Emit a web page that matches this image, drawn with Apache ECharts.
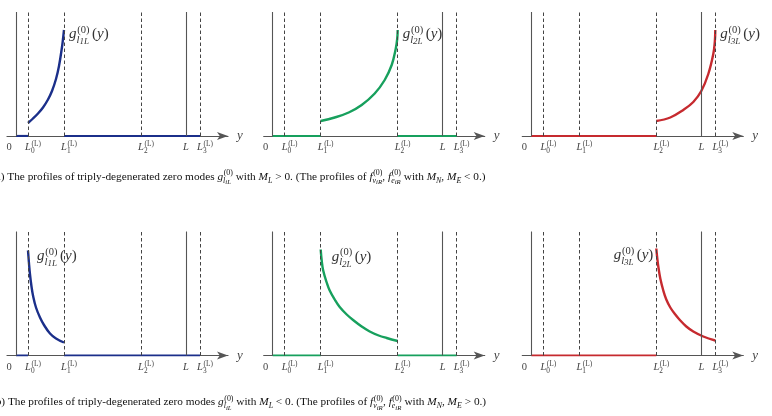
<!DOCTYPE html>
<html>
<head>
<meta charset="utf-8">
<script src="https://cdn.jsdelivr.net/npm/echarts@6/dist/echarts.min.js"></script>
<style>
  html, body { margin: 0; padding: 0; background: #fff; }
  #chart { width: 772px; height: 416px; }
</style>
</head>
<body>
<div id="chart"></div>
<script>
// positions of 0, L0, L1, L2, L, L3 along the y axis
const tickValues = [0, 12, 48, 125, 170, 184];
const tickNames = ['0', '0', '1', '2', 'L', '3'];
const yTop = 124;

// rising profiles, M_L > 0
const rise1X = [12, 17, 22, 27, 32, 36, 40, 43, 46, 47, 48];
const rise1Y = [13, 17.5, 22.5, 28.5, 36.5, 45, 57, 70, 89, 97, 106];
const rise2X = [48, 62, 76, 89, 102, 112, 119, 123, 124.5, 125];
const rise2Y = [15, 18.5, 23.5, 31, 42.5, 56, 71, 87, 97, 106];
const rise3X = [125, 139, 152, 162, 170, 177, 182, 183.5, 184];
const rise3Y = [15, 18.5, 26, 34, 45, 62, 82, 94, 106];

// falling profiles, M_L < 0
const fall1X = [12, 13, 14, 15.5, 17, 20, 24, 28, 34, 40, 48];
const fall1Y = [105, 92, 81, 69, 60, 48, 38, 30.5, 22, 17, 13];
const fall2X = [48, 49, 50.5, 54, 57, 62, 67, 74, 81, 89, 97, 106, 114, 125];
const fall2Y = [106, 95, 85, 73, 65, 56, 48.5, 41, 35, 29, 24, 20, 17.5, 14.5];
const fall3X = [125, 126, 127, 129, 132, 135, 139, 144, 149, 155, 162, 172, 184];
const fall3Y = [107, 97, 89, 77, 65, 56, 48, 41, 35, 29, 24, 19, 15];

const colors = ['#1b2f8a', '#17a05d', '#c62a2f'];
const gridLeft = [7, 263.7, 522.3];
const gridTop = [12, 231.5];

const panels = [
  {row: 0, col: 0, x: rise1X, y: rise1Y, anchor: 'end', off: [5, 9.6]},
  {row: 0, col: 1, x: rise2X, y: rise2Y, anchor: 'end', off: [5, 9.6]},
  {row: 0, col: 2, x: rise3X, y: rise3Y, anchor: 'end', off: [5, 9.6]},
  {row: 1, col: 0, x: fall1X, y: fall1Y, anchor: 'start', off: [9, 11]},
  {row: 1, col: 1, x: fall2X, y: fall2Y, anchor: 'start', off: [11, 12.5]},
  {row: 1, col: 2, x: fall3X, y: fall3Y, anchor: 'start', off: [-3, 12], right: true}
];

let grids = [], xAxes = [], yAxes = [], series = [];
panels.forEach((p, i) => {
  grids.push({left: gridLeft[p.col], top: gridTop[p.row], width: 221, height: 124, outerBoundsMode: 'none'});
  xAxes.push({
    type: 'value', gridIndex: i, min: -9, max: 212,
    axisLine: {show: true, symbol: ['none', 'arrow'], symbolSize: [6, 11], lineStyle: {color: '#555', width: 1.2}},
    axisTick: {show: false}, axisLabel: {show: false}, splitLine: {show: false},
    name: 'y', nameLocation: 'end', nameGap: 9,
    nameTextStyle: {fontFamily: 'Liberation Serif', fontStyle: 'italic', fontSize: 13, color: '#444', verticalAlign: 'middle'}
  });
  yAxes.push({type: 'value', gridIndex: i, min: 0, max: yTop, show: false});

  const color = colors[p.col];
  const first = p.x[0], last = p.x[p.x.length - 1];
  // the curve, with the vertical guide lines at 0, L0..L3 and L
  series.push({
    type: 'line', xAxisIndex: i, yAxisIndex: i, silent: true, showSymbol: false,
    smooth: 0.4,
    data: p.x.map((v, k) => [v, p.y[k]]),
    lineStyle: {color: color, width: 2.4}, z: 4,
    markLine: {
      silent: true, symbol: ['none', 'none'], animation: false, label: {show: false},
      lineStyle: {color: '#444', width: 1, type: [3.5, 2.5]},
      data: tickValues.map((v, k) => ({
        xAxis: v,
        lineStyle: (k === 0 || k === 4) ? {type: 'solid', color: '#555', width: 1.1} : {}
      }))
    }
  });
  // zero parts of the profile along the axis
  const flats = [];
  if (first > 0) flats.push([0, first]);
  if (last < tickValues[5]) flats.push([last, tickValues[5]]);
  flats.forEach(f => {
    series.push({
      type: 'line', xAxisIndex: i, yAxisIndex: i, silent: true, showSymbol: false,
      data: [[f[0], 0], [f[1], 0]], lineStyle: {color: color, width: 2.2}, z: 3
    });
  });
});

let chart = echarts.init(document.getElementById('chart'));
chart.setOption({animation: false, grid: grids, xAxis: xAxes, yAxis: yAxes, series: series});

// small math typesetting with stacked super/subscripts
const ctx = document.createElement('canvas').getContext('2d');
function measure(s, size, it) {
  ctx.font = (it ? 'italic ' : '') + size + 'px "Liberation Serif"';
  return ctx.measureText(s).width;
}
function layout(tokens, size) {
  const runs = [];
  let x = 0;
  const s1 = size * 0.7, s2 = size * 0.6;
  tokens.forEach(tk => {
    if (typeof tk === 'string') {
      runs.push({s: tk, size: size, it: false, x: x, dy: 0});
      x += measure(tk, size, false);
      return;
    }
    const bit = tk.it !== false;
    runs.push({s: tk.b, size: size, it: bit, x: x, dy: 0});
    x += measure(tk.b, size, bit);
    let end = x;
    if (tk.sup) {
      const sx = x + size * 0.05;
      runs.push({s: tk.sup, size: s1, it: false, x: sx, dy: -size * 0.4});
      end = Math.max(end, sx + measure(tk.sup, s1, false));
    }
    if (tk.sub) {
      let sx = x;
      tk.sub.forEach(pc => {
        const sz = pc[1] ? s2 : s1;
        const it = pc[2] !== false;
        runs.push({s: pc[0], size: sz, it: it, x: sx, dy: size * 0.27 + (pc[1] ? size * 0.1 : 0)});
        sx += measure(pc[0], sz, it);
      });
      end = Math.max(end, sx);
    }
    x = end + (tk.gap || 0);
  });
  return {runs: runs, width: x};
}
function place(lay, x0, baseline, color, out) {
  lay.runs.forEach(r => {
    if (!r.s.trim()) return;
    out.push({
      type: 'text', silent: true, x: x0 + r.x, y: baseline + r.dy - r.size * 0.34,
      style: {text: r.s, fontSize: r.size, fontFamily: 'Liberation Serif',
        fontStyle: r.it ? 'italic' : 'normal', fill: color, align: 'left', verticalAlign: 'middle'}
    });
  });
}

const graphics = [];
panels.forEach((p, i) => {
  // tick labels under the axis
  tickValues.forEach((v, k) => {
    const pt = chart.convertToPixel({gridIndex: i}, [v, 0]);
    const base = pt[1] + 15.2;
    if (k === 0) {
      const lay = layout(['0'], 10.5);
      place(lay, pt[0] - 7 - lay.width / 2, base, '#444', graphics);
    } else if (k === 4) {
      const lay = layout([{b: 'L'}], 10.5);
      place(lay, pt[0] - lay.width / 2, base, '#444', graphics);
    } else {
      const lay = layout([{b: 'L', sup: '(L)', sub: [[tickNames[k], 0, false]]}], 10.5);
      place(lay, pt[0] - measure('L', 10.5, true) / 2, base, '#444', graphics);
    }
  });
  // curve name next to its tall end
  const idx = p.anchor === 'end' ? p.x.length - 1 : 0;
  const ap = chart.convertToPixel({gridIndex: i}, [p.x[idx], p.y[idx]]);
  const lay = layout([{b: 'g', sup: '(0)', sub: [['l', 0], [(p.col + 1) + 'L', 1]], gap: 2.5}, '(', {b: 'y', it: true}, ')'], 15);
  const x0 = p.right ? ap[0] + p.off[0] - lay.width : ap[0] + p.off[0];
  place(lay, x0, ap[1] + p.off[1], '#333', graphics);
});

const captionA = ['(a) The profiles of triply-degenerated zero modes ',
  {b: 'g', sup: '(0)', sub: [['l', 0], ['iL', 1]]}, ' with ', {b: 'M', sub: [['L', 0]]},
  ' > 0. (The profiles of ', {b: 'f', sup: '(0)', sub: [['ν', 0], ['iR', 1]]}, ', ',
  {b: 'f', sup: '(0)', sub: [['e', 0], ['iR', 1]]}, ' with ', {b: 'M', sub: [['N', 0]]}, ', ',
  {b: 'M', sub: [['E', 0]]}, ' < 0.)'];
const captionB = ['(b) The profiles of triply-degenerated zero modes ',
  {b: 'g', sup: '(0)', sub: [['l', 0], ['iL', 1]]}, ' with ', {b: 'M', sub: [['L', 0]]},
  ' < 0. (The profiles of ', {b: 'f', sup: '(0)', sub: [['ν', 0], ['iR', 1]]}, ', ',
  {b: 'f', sup: '(0)', sub: [['e', 0], ['iR', 1]]}, ' with ', {b: 'M', sub: [['N', 0]]}, ', ',
  {b: 'M', sub: [['E', 0]]}, ' > 0.)'];
place(layout(captionA, 11.3), -8.1, 180.5, '#111', graphics);
place(layout(captionB, 11.3), -8.1, 406, '#111', graphics);

chart.setOption({graphic: graphics});
window.addEventListener('resize', function () {
  chart.resize();
});
</script>
</body>
</html>
